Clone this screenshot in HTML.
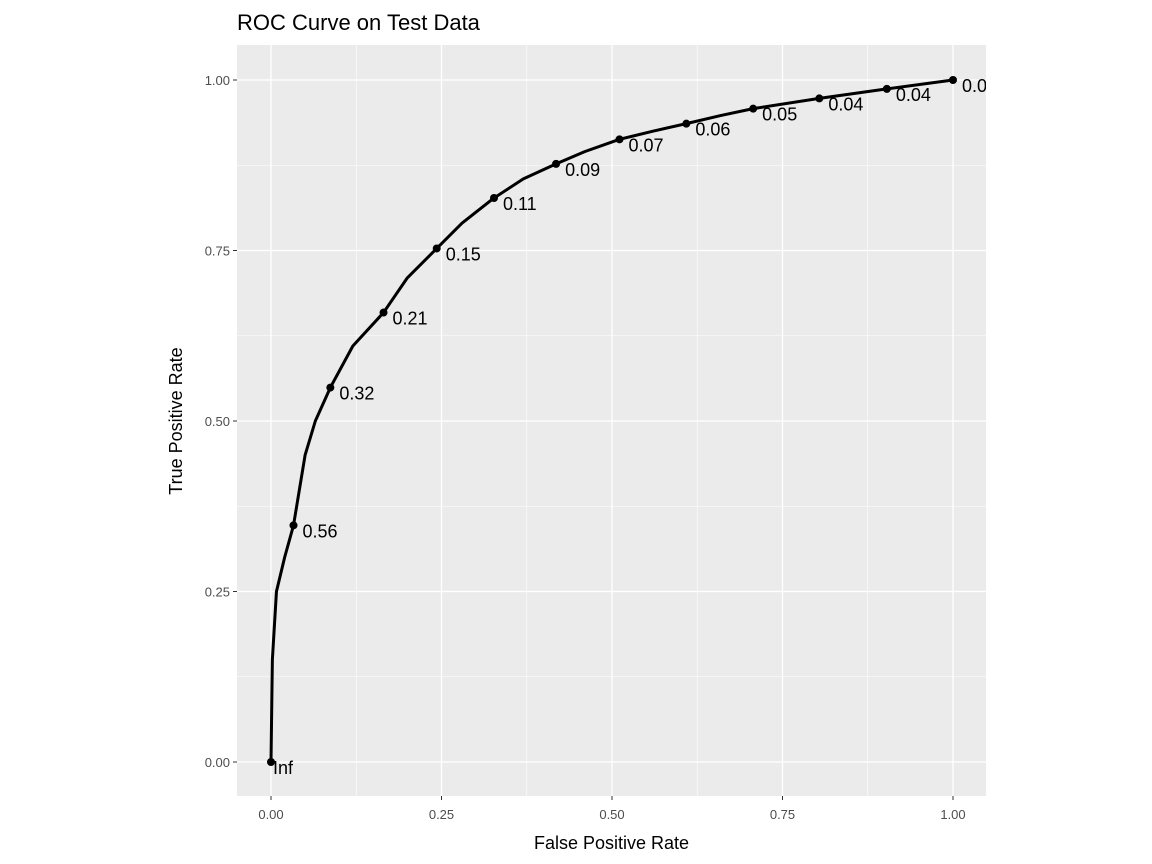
<!DOCTYPE html>
<html><head><meta charset="utf-8"><style>
body{margin:0;background:#fff;}
svg{display:block;font-family:"Liberation Sans",sans-serif;}
</style></head><body>
<svg id="chart" width="1152" height="864" viewBox="0 0 1152 864">
<defs><clipPath id="pc"><rect x="237" y="45" width="749" height="751"/></clipPath></defs>
<rect x="237" y="45" width="749" height="751" fill="#ebebeb"/>
<g id="grid"></g>
<g id="curve" clip-path="url(#pc)"></g>
<g id="axes"></g>
<text x="237" y="30" font-size="22" fill="#000">ROC Curve on Test Data</text>
<text x="611.5" y="849" font-size="18" text-anchor="middle">False Positive Rate</text>
<text transform="translate(182,421) rotate(-90)" font-size="18" text-anchor="middle">True Positive Rate</text>
</svg>
<script>
const curveFpr=[0,0.002,0.008,0.02,0.033,0.05,0.065,0.087,0.12,0.165,0.2,0.243,0.28,0.327,0.37,0.418,0.46,0.511,0.56,0.609,0.66,0.707,0.804,0.903,1];
const curveTpr=[0,0.15,0.25,0.3,0.347,0.45,0.5,0.549,0.61,0.659,0.71,0.753,0.79,0.827,0.855,0.877,0.895,0.913,0.925,0.936,0.948,0.958,0.973,0.987,1];
const ptFpr=[0,0.033,0.087,0.165,0.243,0.327,0.418,0.511,0.609,0.707,0.804,0.903,1];
const ptTpr=[0,0.347,0.549,0.659,0.753,0.827,0.877,0.913,0.936,0.958,0.973,0.987,1];
const ptLabels=["Inf","0.56","0.32","0.21","0.15","0.11","0.09","0.07","0.06","0.05","0.04","0.04","0.0"];
const ticks=[0,0.25,0.5,0.75,1];
const tickLabels=["0.00","0.25","0.50","0.75","1.00"];
const minor=[0.125,0.375,0.625,0.875];
const NS="http://www.w3.org/2000/svg";
const X=v=>271+682*v, Y=v=>762-682*v;
function mk(t,a,p){const e=document.createElementNS(NS,t);for(const k in a)e.setAttribute(k,a[k]);p.appendChild(e);return e;}
const grid=document.getElementById('grid'),axes=document.getElementById('axes'),cv=document.getElementById('curve');
minor.forEach(v=>{
 let l=mk('line',{x1:X(v),x2:X(v),y1:45,y2:796,stroke:'#fff','stroke-width':0.6},grid);
 
 l=mk('line',{x1:237,x2:986,y1:Y(v),y2:Y(v),stroke:'#fff','stroke-width':0.6},grid);
 
});
ticks.forEach((v,i)=>{
 let l=mk('line',{x1:X(v),x2:X(v),y1:45,y2:796,stroke:'#fff','stroke-width':1.3},grid);
 
 l=mk('line',{x1:237,x2:986,y1:Y(v),y2:Y(v),stroke:'#fff','stroke-width':1.3},grid);
 
 l=mk('line',{x1:X(v),x2:X(v),y1:796,y2:800,stroke:'#333','stroke-width':1},axes);
 
 l=mk('line',{x1:233,x2:237,y1:Y(v),y2:Y(v),stroke:'#333','stroke-width':1},axes);
 
 let t=mk('text',{x:X(v),y:819,'font-size':13,fill:'#4d4d4d','text-anchor':'middle'},axes);t.textContent=tickLabels[i];
 
 t=mk('text',{x:230,y:Y(v)+5,'font-size':13,fill:'#4d4d4d','text-anchor':'end'},axes);t.textContent=tickLabels[i];
 
});
const path=mk('polyline',{points:curveFpr.map((f,i)=>X(f)+','+Y(curveTpr[i])).join(' '),fill:'none',stroke:'#000','stroke-width':3,'stroke-linejoin':'round'},cv);

ptFpr.forEach((f,i)=>{
 const c=mk('circle',{cx:X(f),cy:Y(ptTpr[i]),r:4,fill:'#000'},cv);
 
 const t=mk('text',{x:X(f)+2,y:Y(ptTpr[i])+12,'font-size':18,fill:'#000'},cv);t.textContent=ptLabels[i];
 if(i>0)t.setAttribute('x',X(f)+9);
 
});
</script>
</body></html>
